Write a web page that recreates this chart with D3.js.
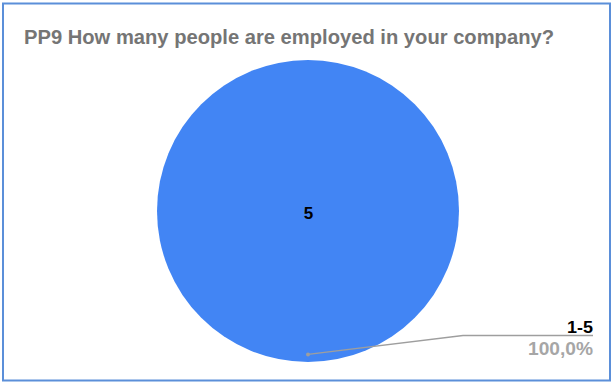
<!DOCTYPE html>
<html>
<head>
<meta charset="utf-8">
<script src="https://cdn.jsdelivr.net/npm/d3@7/dist/d3.min.js"></script>
<style>
  html, body { margin: 0; padding: 0; background: #fff; }
  svg { display: block; font-family: "Liberation Sans", Arial, sans-serif; }
</style>
</head>
<body>
<svg id="chart" width="613" height="383"></svg>
<script>
// Survey answers: employee-count bands and number of respondents
const categories = ["1-5"];
const counts = [5];
const colors = ["#4285f4"];
const title = "PP9 How many people are employed in your company?";

const W = 613, H = 383;
const svg = d3.select("#chart");

// Outer frame
svg.append("rect")
  .attr("x", 3).attr("y", 3.5)
  .attr("width", W - 6).attr("height", H - 6)
  .attr("fill", "#fff")
  .attr("stroke", "#5b8fd9")
  .attr("stroke-width", 2);

// Title
svg.append("text")
  .attr("x", 24).attr("y", 43.5)
  .attr("fill", "#757575")
  .attr("font-weight", "bold")
  .attr("font-size", 21)
  .attr("textLength", 530)
  .attr("lengthAdjust", "spacingAndGlyphs")
  .text(title);

const cx = 308, cy = 211, r = 151;
const data = categories.map((c, i) => ({ cat: c, value: counts[i], color: colors[i] }));
const total = d3.sum(counts);

const pie = d3.pie().value(d => d.value).sort(null);
const arc = d3.arc().innerRadius(0).outerRadius(r);
const arcs = pie(data);

const g = svg.append("g").attr("transform", `translate(${cx},${cy})`);

g.selectAll("path.slice")
  .data(arcs)
  .join("path")
  .attr("class", "slice")
  .attr("d", arc)
  .attr("fill", d => d.data.color);

// Value label inside the slice (a single full slice sits at the centre)
const isFull = d => (d.endAngle - d.startAngle) >= 2 * Math.PI - 1e-6;
g.selectAll("text.val")
  .data(arcs)
  .join("text")
  .attr("class", "val")
  .attr("x", d => isFull(d) ? 0.5 : arc.centroid(d)[0])
  .attr("y", d => isFull(d) ? 7.5 : arc.centroid(d)[1])
  .attr("text-anchor", "middle")
  .attr("font-size", 17)
  .attr("font-weight", "bold")
  .attr("fill", "#000")
  .text(d => d.data.value);

// Leader line from the slice to its category label
const anchorAngle = Math.PI;          // bottom of the circle
const anchorR = r * 0.95;
const ax = anchorR * Math.sin(anchorAngle), ay = -anchorR * Math.cos(anchorAngle);
const elbowX = 463 - cx, elbowY = 335.5 - cy, endX = 593 - cx;

g.append("polyline")
  .attr("points", [[ax, ay], [elbowX, elbowY], [endX, elbowY]].map(p => p.join(",")).join(" "))
  .attr("fill", "none")
  .attr("stroke", "#9e9e9e")
  .attr("stroke-width", 1.3);

g.append("circle")
  .attr("cx", ax).attr("cy", ay).attr("r", 2)
  .attr("fill", "#9e9e9e");

arcs.forEach(d => {
  g.append("text")
    .attr("x", endX).attr("y", 333 - cy)
    .attr("text-anchor", "end")
    .attr("font-size", 17)
    .attr("font-weight", "bold")
    .attr("fill", "#000")
    .attr("textLength", 26)
    .attr("lengthAdjust", "spacingAndGlyphs")
    .text(d.data.cat);
  g.append("text")
    .attr("x", endX).attr("y", 355 - cy)
    .attr("text-anchor", "end")
    .attr("font-size", 18.6)
    .attr("font-weight", "bold")
    .attr("fill", "#a6a6a6")
    .attr("textLength", 65)
    .attr("lengthAdjust", "spacingAndGlyphs")
    .text((d.data.value / total * 100).toFixed(1).replace(".", ",") + "%");
});
</script>
</body>
</html>
